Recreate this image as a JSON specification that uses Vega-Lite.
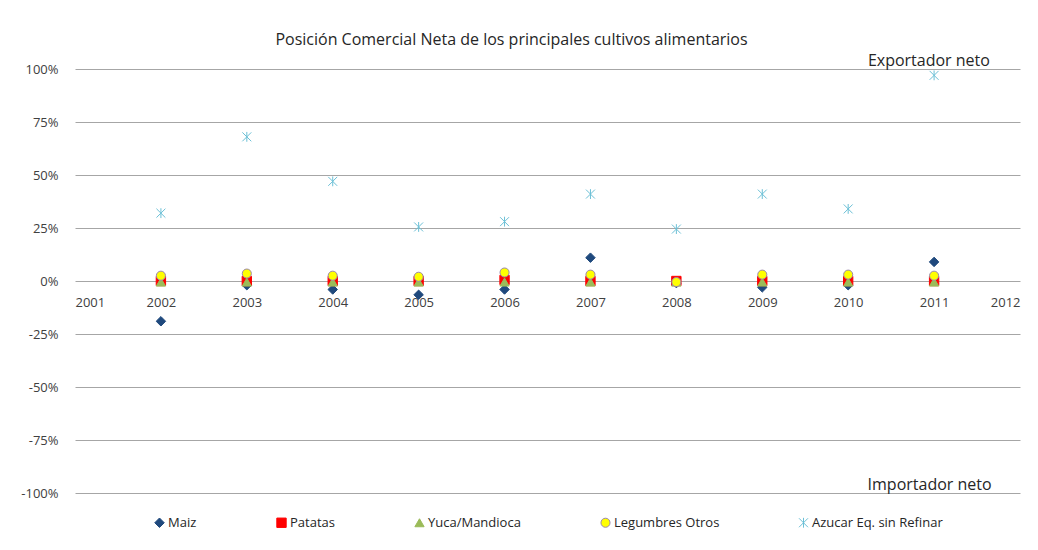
{
  "$schema": "https://vega.github.io/schema/vega-lite/v6.json",
  "autosize": "none",
  "width": 945,
  "height": 424,
  "padding": {"left": 75, "top": 69, "right": 18, "bottom": 57},
  "background": "white",
  "config": {
    "view": {"stroke": null},
    "font": "Open Sans",
    "legend": {"orient": "none", "legendX": 78, "legendY": 447, "direction": "horizontal", "columns": 5, "columnPadding": 77, "labelFontSize": 13, "labelColor": "#262626", "labelFont": "Open Sans", "labelOffset": 2, "symbolStrokeWidth": 1}
  },
  "title": {"text": "Posición Comercial Neta de los principales cultivos alimentarios", "fontSize": 16, "fontWeight": "normal", "color": "#262626", "offset": 5, "dx": -36, "font": "Open Sans"},
  "data": {"values": [
    {"year": 2002, "series": "Maiz", "v": -19},
    {"year": 2003, "series": "Maiz", "v": -2},
    {"year": 2004, "series": "Maiz", "v": -4},
    {"year": 2005, "series": "Maiz", "v": -6.5},
    {"year": 2006, "series": "Maiz", "v": -4},
    {"year": 2007, "series": "Maiz", "v": 11},
    {"year": 2008, "series": "Maiz", "v": -1},
    {"year": 2009, "series": "Maiz", "v": -3},
    {"year": 2010, "series": "Maiz", "v": -2},
    {"year": 2011, "series": "Maiz", "v": 9},
    {"year": 2002, "series": "Patatas", "v": 0},
    {"year": 2003, "series": "Patatas", "v": 0},
    {"year": 2004, "series": "Patatas", "v": 0},
    {"year": 2005, "series": "Patatas", "v": 0},
    {"year": 2006, "series": "Patatas", "v": 0.5},
    {"year": 2007, "series": "Patatas", "v": 0},
    {"year": 2008, "series": "Patatas", "v": 0},
    {"year": 2009, "series": "Patatas", "v": 0},
    {"year": 2010, "series": "Patatas", "v": 0},
    {"year": 2011, "series": "Patatas", "v": 0},
    {"year": 2002, "series": "Yuca/Mandioca", "v": -0.5},
    {"year": 2003, "series": "Yuca/Mandioca", "v": -0.5},
    {"year": 2004, "series": "Yuca/Mandioca", "v": -0.5},
    {"year": 2005, "series": "Yuca/Mandioca", "v": -0.5},
    {"year": 2006, "series": "Yuca/Mandioca", "v": -0.5},
    {"year": 2007, "series": "Yuca/Mandioca", "v": -0.5},
    {"year": 2008, "series": "Yuca/Mandioca", "v": -0.5},
    {"year": 2009, "series": "Yuca/Mandioca", "v": -0.5},
    {"year": 2010, "series": "Yuca/Mandioca", "v": -0.5},
    {"year": 2011, "series": "Yuca/Mandioca", "v": -0.5},
    {"year": 2002, "series": "Legumbres Otros", "v": 2.5},
    {"year": 2003, "series": "Legumbres Otros", "v": 3.5},
    {"year": 2004, "series": "Legumbres Otros", "v": 2.5},
    {"year": 2005, "series": "Legumbres Otros", "v": 2},
    {"year": 2006, "series": "Legumbres Otros", "v": 4},
    {"year": 2007, "series": "Legumbres Otros", "v": 3},
    {"year": 2008, "series": "Legumbres Otros", "v": -0.5},
    {"year": 2009, "series": "Legumbres Otros", "v": 3},
    {"year": 2010, "series": "Legumbres Otros", "v": 3},
    {"year": 2011, "series": "Legumbres Otros", "v": 2.5},
    {"year": 2002, "series": "Azucar Eq. sin Refinar", "v": 32},
    {"year": 2003, "series": "Azucar Eq. sin Refinar", "v": 68},
    {"year": 2004, "series": "Azucar Eq. sin Refinar", "v": 47},
    {"year": 2005, "series": "Azucar Eq. sin Refinar", "v": 25.5},
    {"year": 2006, "series": "Azucar Eq. sin Refinar", "v": 28},
    {"year": 2007, "series": "Azucar Eq. sin Refinar", "v": 41},
    {"year": 2008, "series": "Azucar Eq. sin Refinar", "v": 24.5},
    {"year": 2009, "series": "Azucar Eq. sin Refinar", "v": 41},
    {"year": 2010, "series": "Azucar Eq. sin Refinar", "v": 34},
    {"year": 2011, "series": "Azucar Eq. sin Refinar", "v": 97}
  ]},
  "layer": [
    {
      "mark": {"type": "point", "filled": false, "strokeWidth": 1, "opacity": 1},
      "encoding": {
        "x": {"field": "year", "type": "quantitative", "scale": {"domain": [2001, 2012], "nice": false, "zero": false},
          "axis": {"title": null, "values": [2001,2002,2003,2004,2005,2006,2007,2008,2009,2010,2011,2012], "format": "d", "offset": -212, "domain": false, "ticks": false, "grid": false, "labelPadding": 15, "labelFontSize": 13, "labelColor": "#404040", "labelFont": "Open Sans"}},
        "y": {"field": "v", "type": "quantitative", "scale": {"domain": [-100, 100], "nice": false},
          "axis": {"title": null, "values": [-100,-75,-50,-25,0,25,50,75,100], "labelExpr": "datum.value + '%'", "domain": false, "ticks": false, "grid": true, "gridColor": "#a6a6a6", "gridWidth": 1, "labelPadding": 17, "labelFontSize": 13, "labelColor": "#404040", "labelFont": "Open Sans"}},
        "shape": {"field": "series", "type": "nominal", "sort": null, "title": null,
          "scale": {"domain": ["Maiz", "Patatas", "Yuca/Mandioca", "Legumbres Otros", "Azucar Eq. sin Refinar"],
            "range": ["diamond", "square", "triangle-up", "circle", "M-1,-1L1,1M-1,1L1,-1M0,-1.1L0,1.1"]}},
        "fill": {"field": "series", "type": "nominal", "sort": null, "title": null,
          "scale": {"domain": ["Maiz", "Patatas", "Yuca/Mandioca", "Legumbres Otros", "Azucar Eq. sin Refinar"],
            "range": ["#1f497d", "#ff0000", "#9bbb59", "#ffff00", "transparent"]}},
        "stroke": {"field": "series", "type": "nominal", "sort": null, "title": null,
          "scale": {"domain": ["Maiz", "Patatas", "Yuca/Mandioca", "Legumbres Otros", "Azucar Eq. sin Refinar"],
            "range": ["#1f497d", "#ff0000", "#9bbb59", "#9a86ad", "#6cc0d6"]}},
        "size": {"field": "series", "type": "nominal", "sort": null, "title": null,
          "scale": {"domain": ["Maiz", "Patatas", "Yuca/Mandioca", "Legumbres Otros", "Azucar Eq. sin Refinar"],
            "range": [90, 80, 100, 115, 130]}}
      }
    },
    {
      "data": {"values": [
        {"label": "Exportador neto", "x": 2011.65, "y": 100, "dy": -9},
        {"label": "Importador neto", "x": 2011.67, "y": -100, "dy": -3}
      ]},
      "mark": {"type": "text", "align": "right", "baseline": "bottom", "fontSize": 16, "color": "#262626", "font": "Open Sans"},
      "encoding": {
        "x": {"field": "x", "type": "quantitative"},
        "y": {"field": "y", "type": "quantitative"},
        "yOffset": {"field": "dy", "type": "quantitative", "scale": null},
        "text": {"field": "label"}
      }
    }
  ]
}
